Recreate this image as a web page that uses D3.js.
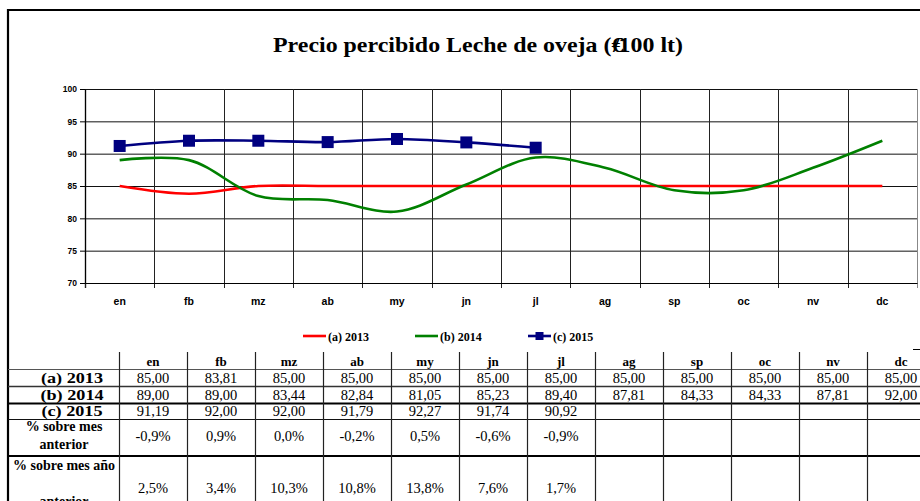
<!DOCTYPE html>
<html>
<head>
<meta charset="utf-8">
<script src="https://cdn.jsdelivr.net/npm/d3@7/dist/d3.min.js"></script>
<style>
  html, body { margin: 0; padding: 0; background: #fff; }
  svg { display: block; }
  .serif { font-family: "Liberation Serif", "Times New Roman", serif; }
  .sans { font-family: "Liberation Sans", Arial, sans-serif; }
</style>
</head>
<body>
<svg id="chart" width="920" height="501"></svg>
<script>
// Monthly prices, €/100 lt
const months = ["en", "fb", "mz", "ab", "my", "jn", "jl", "ag", "sp", "oc", "nv", "dc"];
const price2013 = [85.00, 83.81, 85.00, 85.00, 85.00, 85.00, 85.00, 85.00, 85.00, 85.00, 85.00, 85.00];
const price2014 = [89.00, 89.00, 83.44, 82.84, 81.05, 85.23, 89.40, 87.81, 84.33, 84.33, 87.81, 92.00];
const price2015 = [91.19, 92.00, 92.00, 91.79, 92.27, 91.74, 90.92];
// Percentage changes for 2015
const pctPrevMonth = [-0.9, 0.9, 0.0, -0.2, 0.5, -0.6, -0.9];
const pctPrevYear = [2.5, 3.4, 10.3, 10.8, 13.8, 7.6, 1.7];
const yTicks = [70, 75, 80, 85, 90, 95, 100];

const series = [
  { key: "(a) 2013", values: price2013, color: "#ff0000", marker: false },
  { key: "(b) 2014", values: price2014, color: "#008000", marker: false },
  { key: "(c) 2015", values: price2015, color: "#000080", marker: true }
];

const fmt2 = v => d3.format(".2f")(v).replace(".", ",");
const fmtPct = v => d3.format(".1f")(v).replace("−", "-").replace(".", ",") + "%";

const svg = d3.select("#chart");
const W = 920;

// chart frame
svg.append("line").attr("x1", 7).attr("x2", W).attr("y1", 10).attr("y2", 10)
  .attr("stroke", "#000").attr("stroke-width", 2.2);
svg.append("line").attr("x1", 8).attr("x2", 8).attr("y1", 9).attr("y2", 501)
  .attr("stroke", "#000").attr("stroke-width", 2.2);

// title (the slash is tucked back under the euro sign)
const titleText = "Precio percibido Leche de oveja (€/100 lt)";
const slashAt = titleText.indexOf("/");
const titleDx = Array.from(titleText, (c, i) => i === slashAt ? -9 : (i === slashAt + 1 ? -1 : 0)).join(" ");
svg.append("text").attr("class", "serif")
  .attr("x", 478).attr("y", 52).attr("text-anchor", "middle")
  .attr("font-size", 21).attr("font-weight", "bold")
  .attr("dx", titleDx)
  .attr("textLength", 410).attr("lengthAdjust", "spacingAndGlyphs")
  .text(titleText);

// plot area
const plot = { left: 85, right: 917, top: 89, bottom: 283 };
const x = d3.scaleBand().domain(months).range([plot.left, plot.right]);
const y = d3.scaleLinear().domain([70, 100]).range([plot.bottom, plot.top]);

const g = svg.append("g");

// horizontal gridlines
g.append("g")
  .attr("transform", `translate(${plot.left},0)`)
  .call(d3.axisLeft(y).tickValues(yTicks).tickSize(-(plot.right - plot.left)).tickFormat(""))
  .call(s => s.select(".domain").remove())
  .call(s => s.selectAll("line").attr("stroke", "#111").attr("stroke-width", 1));

// vertical gridlines at category boundaries (with ticks below the axis)
const bounds = months.map(m => x(m)).concat([plot.right]);
g.append("g").selectAll("line").data(bounds).join("line")
  .attr("x1", d => Math.round(d) + 0.5).attr("x2", d => Math.round(d) + 0.5)
  .attr("y1", plot.top).attr("y2", plot.bottom + 5)
  .attr("stroke", (d, i) => i === bounds.length - 1 ? "#888" : "#222")
  .attr("stroke-width", (d, i) => i === 0 ? 1.4 : 1);

// y axis with labels
g.append("g")
  .attr("transform", `translate(${plot.left},0)`)
  .call(d3.axisLeft(y).tickValues(yTicks).tickSize(5).tickPadding(3))
  .call(s => s.select(".domain").attr("stroke", "#000"))
  .call(s => s.selectAll("line").attr("stroke", "#000"))
  .call(s => s.selectAll("text")
    .attr("font-family", "Liberation Sans, Arial, sans-serif")
    .attr("font-size", 8.5).attr("font-weight", "bold").attr("fill", "#000"));

// x axis labels
g.append("g")
  .attr("transform", `translate(0,${plot.bottom})`)
  .call(d3.axisBottom(x).tickSize(0).tickPadding(15))
  .call(s => s.select(".domain").attr("stroke", "#000"))
  .call(s => s.selectAll("text")
    .attr("font-family", "Liberation Sans, Arial, sans-serif")
    .attr("font-size", 10.5).attr("font-weight", "bold").attr("fill", "#000"));

// series lines
const line = d3.line()
  .x((d, i) => x(months[i]) + x.bandwidth() / 2)
  .y(d => y(d))
  .curve(d3.curveCatmullRom.alpha(0.5));

series.forEach(s => {
  g.append("path").datum(s.values)
    .attr("d", line)
    .attr("fill", "none")
    .attr("stroke", s.color)
    .attr("stroke-width", 2.6);
  if (s.marker) {
    const sz = 12;
    g.append("g").selectAll("rect").data(s.values).join("rect")
      .attr("x", (d, i) => x(months[i]) + x.bandwidth() / 2 - sz / 2)
      .attr("y", d => y(d) - sz / 2)
      .attr("width", sz).attr("height", sz)
      .attr("fill", s.color);
  }
});

// legend
const legendX = [303, 415, 528];
const legend = svg.append("g");
series.forEach((s, i) => {
  const lg = legend.append("g").attr("transform", `translate(${legendX[i]},336)`);
  lg.append("line").attr("x1", 0).attr("x2", 23).attr("y1", 0).attr("y2", 0)
    .attr("stroke", s.color).attr("stroke-width", 2.6);
  if (s.marker) {
    lg.append("rect").attr("x", 7.5).attr("y", -4).attr("width", 8).attr("height", 8)
      .attr("fill", s.color);
  }
  lg.append("text").attr("class", "serif")
    .attr("x", 25).attr("y", 4.5)
    .attr("font-size", 12).attr("font-weight", "bold")
    .text(s.key);
});

// data table
const tx = d3.scaleBand().domain(months).range([119, 935]);
const priceRows = [
  { label: "(a) 2013", cells: price2013.map(fmt2), top: 369, bottom: 386 },
  { label: "(b) 2014", cells: price2014.map(fmt2), top: 386, bottom: 403 },
  { label: "(c) 2015", cells: price2015.map(fmt2), top: 403, bottom: 419 }
];

const table = svg.append("g");

// row separators
const hLines = [
  { y: 369.5, w: 1, c: "#555" },
  { y: 386.5, w: 1.4, c: "#333" },
  { y: 403.5, w: 2, c: "#000" },
  { y: 419.5, w: 1, c: "#111" },
  { y: 456, w: 1.8, c: "#000" }
];
table.selectAll("line.h").data(hLines).join("line").attr("class", "h")
  .attr("x1", 8).attr("x2", W).attr("y1", d => d.y).attr("y2", d => d.y)
  .attr("stroke", d => d.c).attr("stroke-width", d => d.w);

// column separators
const colBounds = months.map(m => tx(m));
table.selectAll("line.v").data(colBounds).join("line").attr("class", "v")
  .attr("x1", d => d + 0.5).attr("x2", d => d + 0.5)
  .attr("y1", 352).attr("y2", 501)
  .attr("stroke", "#222").attr("stroke-width", 1.2);
table.append("line").attr("x1", 913).attr("x2", W).attr("y1", 349.5).attr("y2", 349.5)
  .attr("stroke", "#000").attr("stroke-width", 1);

// header row
table.selectAll("text.hd").data(months).join("text").attr("class", "hd serif")
  .attr("x", d => tx(d) + tx.bandwidth() / 2).attr("y", 366)
  .attr("text-anchor", "middle").attr("font-size", 13).attr("font-weight", "bold")
  .text(d => d);

priceRows.forEach(r => {
  const mid = (r.top + r.bottom) / 2;
  // row label, widened horizontally
  table.append("text").attr("class", "serif")
    .attr("transform", `translate(72,${mid + 5}) scale(1.3,1)`)
    .attr("text-anchor", "middle")
    .attr("font-size", 14).attr("font-weight", "bold")
    .text(r.label);
  table.selectAll(null).data(r.cells).join("text").attr("class", "serif")
    .attr("x", (d, i) => tx(months[i]) + tx.bandwidth() / 2).attr("y", mid + 5)
    .attr("text-anchor", "middle").attr("font-size", 14.5)
    .text(d => d);
});

// percentage rows
const pctRows = [
  { label: ["% sobre mes", "anterior"], labelY: [431, 449], cells: pctPrevMonth.map(fmtPct), valueY: 441 },
  { label: ["% sobre mes año", "anterior"], labelY: [470, 506], cells: pctPrevYear.map(fmtPct), valueY: 493 }
];
pctRows.forEach(r => {
  r.label.forEach((t, k) => {
    table.append("text").attr("class", "serif").attr("x", 64).attr("y", r.labelY[k])
      .attr("text-anchor", "middle").attr("font-size", 14).attr("font-weight", "bold").text(t);
  });
  table.selectAll(null).data(r.cells).join("text").attr("class", "serif")
    .attr("x", (d, i) => tx(months[i]) + tx.bandwidth() / 2).attr("y", r.valueY)
    .attr("text-anchor", "middle").attr("font-size", 14.5).text(d => d);
});
</script>
</body>
</html>
